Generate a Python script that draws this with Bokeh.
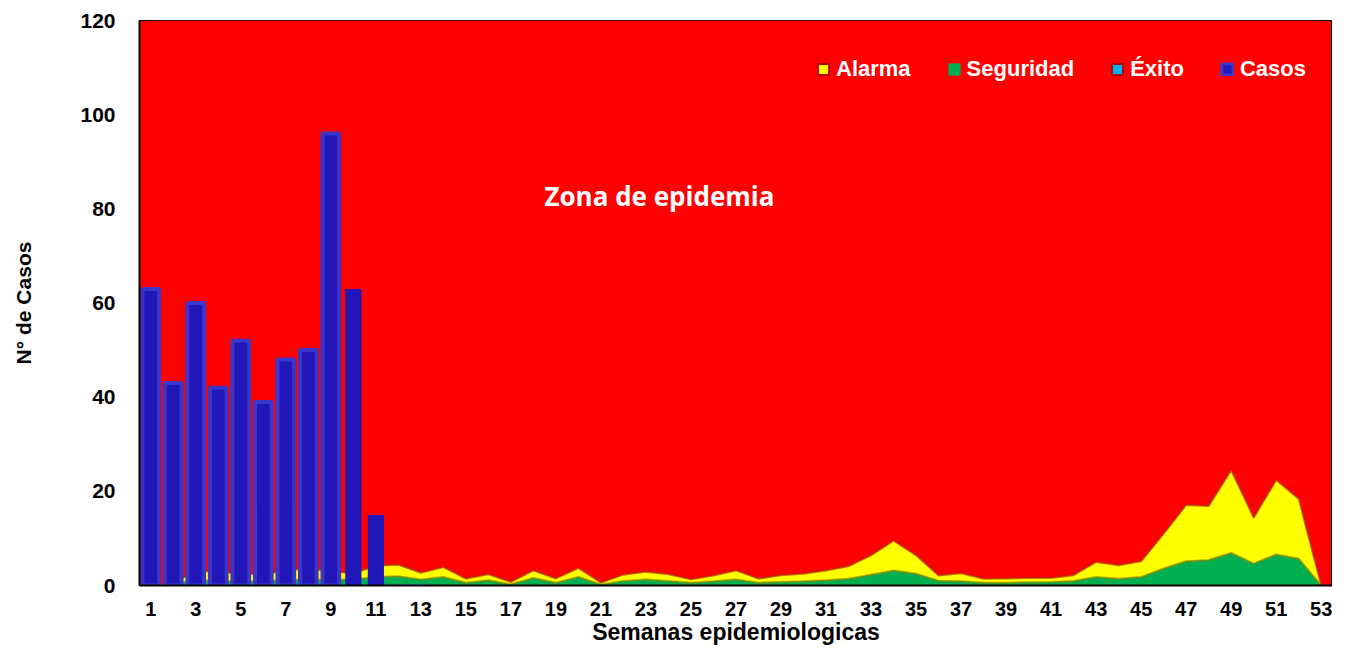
from bokeh.plotting import figure
from bokeh.models import Range1d, FixedTicker, Legend, LegendItem, ColumnDataSource, Label
from bokeh.embed import file_html
from bokeh.resources import INLINE

# ---------------- data ----------------
weeks = list(range(1, 54))
casos_weeks = list(range(1, 12))
casos = [63, 43, 60, 42, 52, 39, 48, 50, 96, 63, 15]

# upper limit of each zone (cumulative thresholds of the endemic channel)
exito = [0.0, 0.0, 0.0, 0.0, 0.0, 0.0, 0.0, 0.0, 0.0, 0.0,
         0.0, 0.2, 0.3, 0.0, 0.0, 0.0, 0.0, 0.0, 0.0, 0.0,
         0.0, 0.0, 0.0, 0.0, 0.0, 0.0, 0.0, 0.0, 0.0, 0.0,
         0.0, 0.0, 0.0, 0.0, 0.0, 0.0, 0.0, 0.0, 0.0, 0.0,
         0.0, 0.0, 0.0, 0.0, 0.0, 0.0, 0.0, 0.0, 0.0, 0.0,
         0.0, 0.0, 0.0]
seguridad = [0.0, 0.3, 1.2, 0.9, 0.9, 0.9, 1.2, 1.3, 1.2, 1.3,
             1.8, 1.95, 1.3, 1.8, 0.6, 1.1, 0.25, 1.6, 0.6, 1.8,
             0.2, 0.95, 1.25, 0.95, 0.6, 0.9, 1.25, 0.6, 0.75, 0.9,
             1.1, 1.45, 2.3, 3.2, 2.5, 1.0, 0.9, 0.6, 0.6, 0.7,
             0.75, 0.95, 1.8, 1.45, 1.8, 3.6, 5.15, 5.4, 6.9, 4.65,
             6.6, 5.7, 0.0]
alarma = [0.0, 0.5, 3.1, 2.9, 2.5, 2.4, 3.2, 3.6, 3.0, 2.6,
          4.2, 4.4, 2.7, 3.9, 1.45, 2.4, 0.75, 3.2, 1.5, 3.7,
          0.6, 2.3, 2.9, 2.4, 1.3, 2.1, 3.2, 1.45, 2.2, 2.5,
          3.2, 4.1, 6.4, 9.5, 6.4, 2.1, 2.6, 1.45, 1.5, 1.6,
          1.6, 2.2, 5.0, 4.3, 5.15, 11.0, 17.1, 16.9, 24.5, 14.4,
          22.4, 18.4, 0.0]
epidemia_top = [120] * 53

y_ticks = [0, 20, 40, 60, 80, 100, 120]
x_ticks = list(range(1, 54, 2))

legend_labels = ["Alarma", "Seguridad", "Éxito", "Casos"]
zone_text = "Zona de epidemia"

# ---------------- figure ----------------
p = figure(width=1332, height=649,
           x_range=Range1d(0.5, 53.5), y_range=Range1d(0, 120),
           output_backend="svg", toolbar_location=None,
           min_border_left=139, min_border_right=0,
           min_border_top=20, min_border_bottom=64)

RED = "#FF0000"
YELLOW = "#FFFF00"
GREEN = "#00B050"
CYAN = "#00B0F0"
BLUE = "#2117B8"
BEVEL = "#3A36C9"
DARKRED = "#B00000"

p.background_fill_color = RED
p.border_fill_color = "white"
p.outline_line_color = "black"
p.outline_line_width = 1
p.xgrid.grid_line_color = None
p.ygrid.grid_line_color = None

src = ColumnDataSource(dict(week=weeks, exito=exito, seguridad=seguridad,
                            alarma=alarma, top=epidemia_top, zero=[0] * 53))

p.varea(x="week", y1="alarma", y2="top", source=src, fill_color=RED)
p.varea(x="week", y1="seguridad", y2="alarma", source=src, fill_color=YELLOW)
p.varea(x="week", y1="exito", y2="seguridad", source=src, fill_color=GREEN)
p.varea(x="week", y1="zero", y2="exito", source=src, fill_color=CYAN)
p.line(x="week", y="alarma", source=src, line_color="#A83000", line_width=2, line_alpha=0.65)
p.line(x="week", y="seguridad", source=src, line_color="#8C9000", line_width=2, line_alpha=0.7)

n_bevel = 9
p.vbar(x=casos_weeks[:n_bevel], top=casos[:n_bevel], width=0.74,
       fill_color=BLUE, line_color=BEVEL, line_width=4)
p.vbar(x=casos_weeks[n_bevel:], top=casos[n_bevel:], width=0.72,
       fill_color=BLUE, line_color=None)

p.add_layout(Label(x=23.6, y=82.8, text=zone_text, text_align="center",
                   text_baseline="middle", text_font="Open Sans",
                   text_font_style="bold", text_font_size="26px",
                   text_color="white"))

# legend-only glyphs (NaN data: nothing drawn in the plot)
nan = float("nan")
r_al = p.vbar(x=[nan], top=[nan], width=0.5, fill_color=YELLOW, line_color=DARKRED, line_width=2)
r_se = p.vbar(x=[nan], top=[nan], width=0.5, fill_color=GREEN, line_color=GREEN, line_width=1)
r_ex = p.vbar(x=[nan], top=[nan], width=0.5, fill_color=CYAN, line_color=DARKRED, line_width=2)
r_ca = p.vbar(x=[nan], top=[nan], width=0.5, fill_color=BLUE, line_color=BEVEL, line_width=3)
legend = Legend(items=[LegendItem(label=l, renderers=[r]) for l, r in
                       zip(legend_labels, [r_al, r_se, r_ex, r_ca])],
                location=(677, 503), orientation="horizontal",
                glyph_width=14, glyph_height=14, label_standoff=6, spacing=36,
                padding=0, margin=0, background_fill_alpha=0,
                border_line_color=None, label_text_color="white",
                label_text_font="Liberation Sans", label_text_font_style="bold",
                label_text_font_size="22px")
p.add_layout(legend)

# axes
p.xaxis.ticker = FixedTicker(ticks=x_ticks)
p.yaxis.ticker = FixedTicker(ticks=y_ticks)
for ax in (p.xaxis, p.yaxis):
    ax.major_tick_in = 0
    ax.major_tick_out = 0
    ax.minor_tick_line_color = None
    ax.axis_line_color = "black"
    ax.axis_line_width = 2
    ax.major_label_text_font = "Liberation Sans"
    ax.major_label_text_font_style = "bold"
    ax.major_label_text_color = "black"
    ax.axis_label_text_font = "Liberation Sans"
    ax.axis_label_text_font_style = "bold"
    ax.axis_label_text_color = "black"

p.xaxis.major_label_text_font_size = "20px"
p.yaxis.major_label_text_font_size = "21px"

p.xaxis.axis_label = "Semanas epidemiologicas"
p.xaxis.axis_label_text_font_size = "23px"
p.xaxis.major_label_standoff = 16
p.xaxis.axis_label_standoff = 0

p.yaxis.axis_label = "N° de Casos"
p.yaxis.axis_label_text_font_size = "21px"
p.yaxis.major_label_standoff = 24
p.yaxis.axis_label_standoff = 42

open("out.html", "w").write(file_html(p, INLINE))
